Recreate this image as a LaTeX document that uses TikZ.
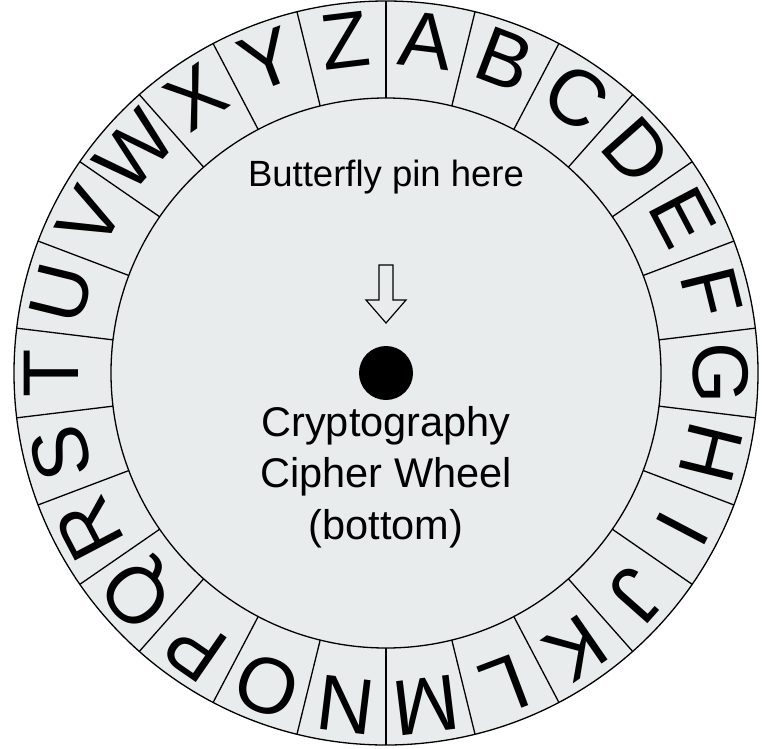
\documentclass[tikz,border=0pt]{standalone}
\usepackage{fontspec}
\setmainfont{Liberation Sans}
\usetikzlibrary{positioning}
\definecolor{wheelgray}{HTML}{E9ECED}

\begin{document}
\begin{tikzpicture}[x=1pt,y=1pt,line width=1.3pt,
  letter/.style={font=\fontsize{79}{79}\selectfont,inner sep=0pt,text height=56.5pt,text depth=0pt}]
\useasboundingbox (-386,-375) rectangle (376,373);
\filldraw[fill=wheelgray] (0,0) circle (372);
\draw (0,0) circle (275);
% sector lines
\foreach \k in {0,...,25}
  \draw (90+\k*360/26:275) -- (90+\k*360/26:372);
% letters, A just right of the top, then clockwise
\foreach \l [count=\i from 0] in {A,...,Z}
  \node[letter,rotate={-(\i+0.5)*360/26}] (let\l) at ({90-(\i+0.5)*360/26}:336) {\l};
\node[circle,fill=black,inner sep=0pt,minimum size=54pt] (pin) at (0,0) {};
\draw[line width=1.2pt] (-7,108) -- (7,108) -- (7,73) -- (20,73) -- (0,50) -- (-20,73) -- (-7,73) -- cycle;
\node[font=\fontsize{36.5}{36.5}\selectfont,anchor=base] (here) at (0,187) {Butterfly pin here};
\node[font=\fontsize{41.5}{51.5}\selectfont,align=center,anchor=base] (title) at (0,-166) {Cryptography\\Cipher Wheel\\(bottom)};
\end{tikzpicture}
\end{document}
